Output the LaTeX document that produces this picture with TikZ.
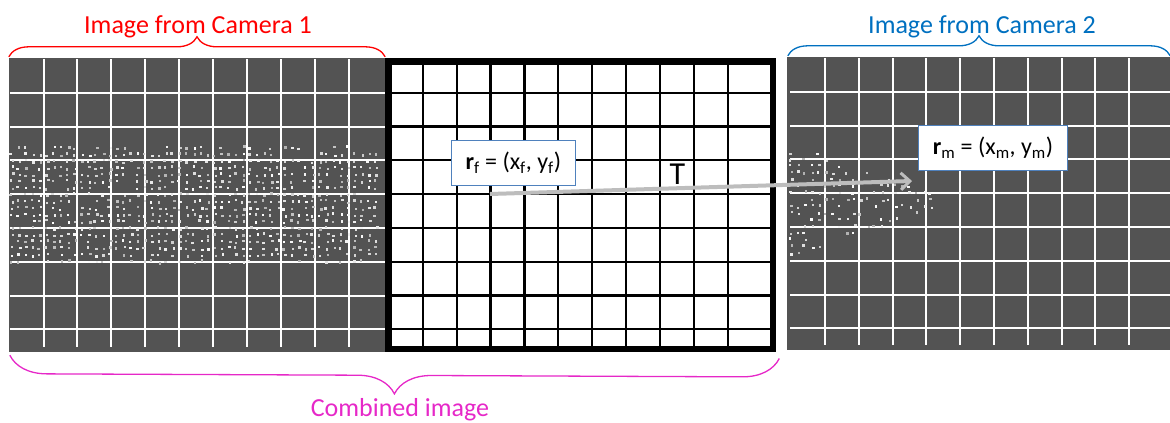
\documentclass[tikz,border=0pt]{standalone}
\usepackage{fontspec}
\setmainfont{Carlito}
\usetikzlibrary{arrows.meta, decorations.pathreplacing}
\definecolor{cdark}{HTML}{535353}
\definecolor{cred}{HTML}{FF0000}
\definecolor{cblue}{HTML}{0070C0}
\definecolor{cpink}{HTML}{E628C8}
\definecolor{cgrey}{HTML}{BDBDBD}
\definecolor{cframe}{HTML}{4F81BD}
\tikzset{
  panel/.style={fill=cdark, inner sep=0pt, minimum height=294},
  wline/.style={draw=white, line width=2pt},
  bline/.style={draw=black, line width=2.2pt},
  title/.style={text=#1, font=\fontsize{26}{30}\selectfont, inner sep=0pt, anchor=base},
  brace/.style={draw=#1, line width=1.3pt, decorate, decoration={brace, amplitude=20pt, aspect=0.5}},
  coordbox/.style={draw=cframe, fill=white, line width=1pt, inner xsep=14pt, minimum height=45pt, font=\fontsize{24}{28}\selectfont},
  arrow/.style={-{Straight Barb[length=9pt, width=17pt, line width=3pt]}, draw=cgrey, line width=4pt},
}

\begin{document}
\begin{tikzpicture}[x=1pt, y=-1pt]
  \useasboundingbox (0,0) rectangle (1170,423);
  % the three frames
  \node[panel, minimum width=376] (img1) at (197,205) {};
  \node[panel, minimum width=388, minimum height=293] (img2) at (981,203.5) {};
  \node[draw=black, fill=white, line width=6.5pt, inner sep=0pt, minimum width=384.5, minimum height=287.5] (comb) at (580.5,205) {};
  % grids
  \foreach \i in {0,...,9} {
    \draw[wline] (43.5+33.9*\i,59) -- (43.5+33.9*\i,347);
    \draw[bline] (422.7+33.9*\i,62) -- (422.7+33.9*\i,348);
    \draw[wline] (825+33.8*\i,58) -- (825+33.8*\i,345);
  }
  \foreach \j in {0,...,7} {
    \draw[wline] (10,92.7+33.8*\j) -- (385,92.7+33.8*\j);
    \draw[bline] (391,92.7+33.8*\j) -- (770,92.7+33.8*\j);
    \draw[wline] (790,91.7+33.8*\j) -- (1170,91.7+33.8*\j);
  }
  % particles in camera 1
  \pgfmathsetseed{11}
  \foreach \row in {0,...,17} {
    \foreach \col in {0,...,52} {
      \pgfmathsetmacro{\px}{12+7*\col+1.5*rand}
      \pgfmathsetmacro{\py}{148+6.7*\row+1.5*rand}
      \pgfmathsetmacro{\lim}{(\row==0||\row==17) ? 0.4 : 0.82}
      \pgfmathtruncatemacro{\shade}{55+45*rnd}
      \pgfmathparse{rnd<\lim ? 1 : 0}
      \ifnum\pgfmathresult=1
        \fill[white!\shade!cdark] (\px-1.2,\py-1.2) rectangle ++(2.4,2.4);
      \fi
    }
  }
  % particles in camera 2
  \foreach \row in {0,...,16} {
    \foreach \col in {0,...,24} {
      \pgfmathsetmacro{\px}{791+7*\col+1.5*rand}
      \pgfmathsetmacro{\py}{146+6.7*\row+1.5*rand}
      \pgfmathtruncatemacro{\shade}{55+45*rnd}
      \pgfmathparse{and(abs(\py-201)<57*(1-(\px-789)/170), rnd<0.5) ? 1 : 0}
      \ifnum\pgfmathresult=1
        \fill[white!\shade!cdark] (\px-1.2,\py-1.2) rectangle ++(2.4,2.4);
      \fi
    }
  }
  % labels and braces
  \node[title=cred] (cam1) at (198,33) {Image from Camera 1};
  \node[title=cblue] (cam2) at (982,33) {Image from Camera 2};
  \node[title=cpink] (comblab) at (400,416) {Combined image};
  \draw[brace=cred] ([yshift=1pt]img1.north west) -- ([yshift=1pt]img1.north east);
  \draw[brace=cblue] ([shift={(1,-1)}]img2.north west) -- ([shift={(-5,-1)}]img2.north east);
  \draw[brace=cpink, decoration={amplitude=37pt}] ([shift={(3.3,6.5)}]comb.south east) -- ([shift={(1,3)}]img1.south west);
  % positions and mapping
  \node[coordbox] (rf) at (513.3,162.5) {\textbf{r}\textsubscript{f} = (x\textsubscript{f}, y\textsubscript{f})};
  \node[coordbox] (rm) at (993,147.5) {\textbf{r}\textsubscript{m} = (x\textsubscript{m}, y\textsubscript{m})};
  \coordinate (pf) at (490,194);
  \coordinate (pm) at (912,181);
  \draw[arrow] (pf) -- (pm);
  \node[anchor=base, font=\fontsize{32}{36}\selectfont, inner sep=0pt] (tlab) at (677.5,184) {T};
\end{tikzpicture}
\end{document}
